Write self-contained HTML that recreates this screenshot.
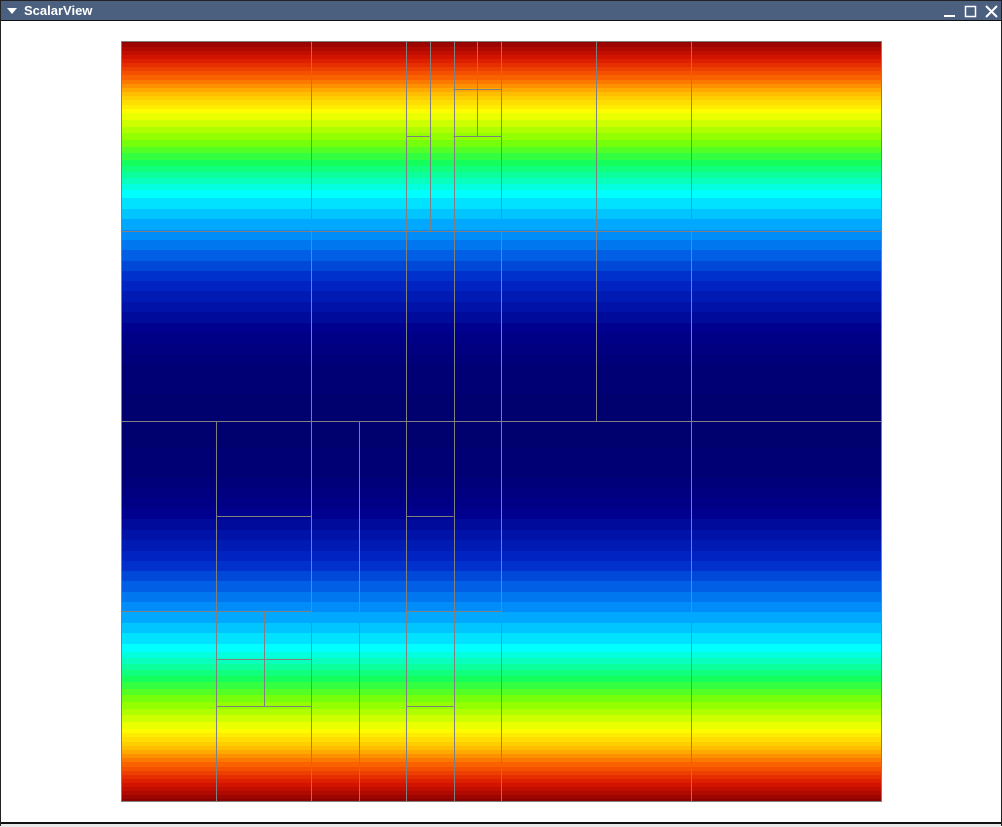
<!DOCTYPE html>
<html><head><meta charset="utf-8">
<style>
html,body{margin:0;padding:0;width:1002px;height:826px;overflow:hidden;background:#fff;font-family:"Liberation Sans",sans-serif;}
#win{position:absolute;left:0;top:0;width:1000px;height:824px;border:1px solid #222;background:#fff;}
#title{position:absolute;left:0;top:0;width:1000px;height:19px;background:#4b5f7f;border-bottom:1px solid #111;color:#fff;font-weight:bold;font-size:13px;line-height:20px;}
#title span{position:absolute;left:23px;top:0;}
#foot{position:absolute;left:0;top:821px;width:1000px;height:3px;border-top:2px solid #111;background:#e8e8e8;}
svg{position:absolute;left:0;top:0;}
#plot{left:-1px;top:-1px;}
</style></head><body>
<div id="win">
 <div id="title">
  <svg width="20" height="20"><polygon points="6,7 16,7 11,13" fill="#fff"/></svg>
  <span>ScalarView</span>
  <svg width="1000" height="20" style="pointer-events:none">
   <rect x="943" y="14" width="11" height="2" fill="#fff"/>
   <rect x="964.5" y="5.5" width="10" height="10" fill="none" stroke="#fff" stroke-width="1.5"/>
   <path d="M985 5 L996 16 M996 5 L985 16" stroke="#fff" stroke-width="2"/>
  </svg>
 </div>
 <svg id="plot" width="1002" height="826"></svg>
 <div id="foot"></div>
</div>
<script>
// value profile: distance from outer edge (px, 0..380) -> scalar value
const profileDist = [0, 35, 71, 122, 152, 190, 239, 289, 329, 380];
const profileVal  = [1.0, 0.82, 0.64, 0.48, 0.375, 0.3, 0.2, 0.1, 0.02, 0.0];
// colormap stops
const cmapPos = [0, 0.1, 0.2, 0.3, 0.375, 0.48, 0.55, 0.64, 0.73, 0.82, 0.91, 1.0];
const cmapR   = [0, 0, 0, 0, 0, 20, 130, 255, 255, 250, 215, 140];
const cmapG   = [0, 0, 40, 150, 255, 255, 255, 255, 190, 90, 20, 0];
const cmapB   = [110, 140, 200, 255, 255, 90, 0, 0, 0, 0, 0, 0];
// mesh segments in domain units (domain 0..16 both axes, y down)
const meshVertical = [ // [x, y0, y1]
 [4,0,16],[6,0,16],[7,0,16],[8,0,16],[12,0,16],
 [10,0,8],[6.5,0,4],[7.5,0,2],
 [2,8,16],[5,8,16],[3,12,14]
];
const meshHorizontal = [ // [y, x0, x1]
 [8,0,16],[4,0,16],
 [2,6,6.5],[2,7,8],[1,7,8],
 [10,2,4],[12,0,4],[13,2,4],[14,2,4],
 [10,6,7],[12,6,8],[14,6,7]
];
const X0=121,Y0=41,W=760,N=16;
const sx=v=>X0+v*W/N, sy=v=>Y0+v*W/N;
const svg=document.getElementById('plot');
const NS='http://www.w3.org/2000/svg';
function lerpArr(xs,ys,x){
  if(x<=xs[0])return ys[0];
  for(let i=1;i<xs.length;i++){
    if(x<=xs[i]){const t=(x-xs[i-1])/(xs[i]-xs[i-1]);return ys[i-1]+t*(ys[i]-ys[i-1]);}
  }
  return ys[ys.length-1];
}
function color(v){
  return 'rgb('+Math.round(lerpArr(cmapPos,cmapR,v))+','+Math.round(lerpArr(cmapPos,cmapG,v))+','+Math.round(lerpArr(cmapPos,cmapB,v))+')';
}
const levels=48;
let start=0,prevQ=null;
for(let y=0;y<=W;y++){
  let q=null;
  if(y<W){const d=Math.min(y+0.5,W-y-0.5);q=Math.round(lerpArr(profileDist,profileVal,d)*levels)/levels;}
  if(prevQ!==null && q!==prevQ){
    const r=document.createElementNS(NS,'rect');
    r.setAttribute('x',X0);r.setAttribute('y',Y0+start);r.setAttribute('width',W);r.setAttribute('height',y-start+0.5);
    r.setAttribute('fill',color(prevQ));
    
    
    svg.appendChild(r);start=y;
  }
  prevQ=q;
}
function line(x1,y1,x2,y2,name){
  const l=document.createElementNS(NS,'line');
  l.setAttribute('x1',x1);l.setAttribute('y1',y1);l.setAttribute('x2',x2);l.setAttribute('y2',y2);
  l.setAttribute('stroke','#808080');l.setAttribute('stroke-width','1');
  
  
  svg.appendChild(l);
}
meshVertical.forEach(m=>line(Math.round(sx(m[0]))+0.5,sy(m[1]),Math.round(sx(m[0]))+0.5,sy(m[2]),'mesh-line-vertical'));
meshHorizontal.forEach(m=>line(sx(m[1]),Math.round(sy(m[0]))+0.5,sx(m[2]),Math.round(sy(m[0]))+0.5,'mesh-line-horizontal'));
const b=document.createElementNS(NS,'rect');
b.setAttribute('x',X0+0.5);b.setAttribute('y',Y0+0.5);b.setAttribute('width',W);b.setAttribute('height',W);
b.setAttribute('fill','none');b.setAttribute('stroke','#808080');


svg.appendChild(b);
</script>
</body></html>
